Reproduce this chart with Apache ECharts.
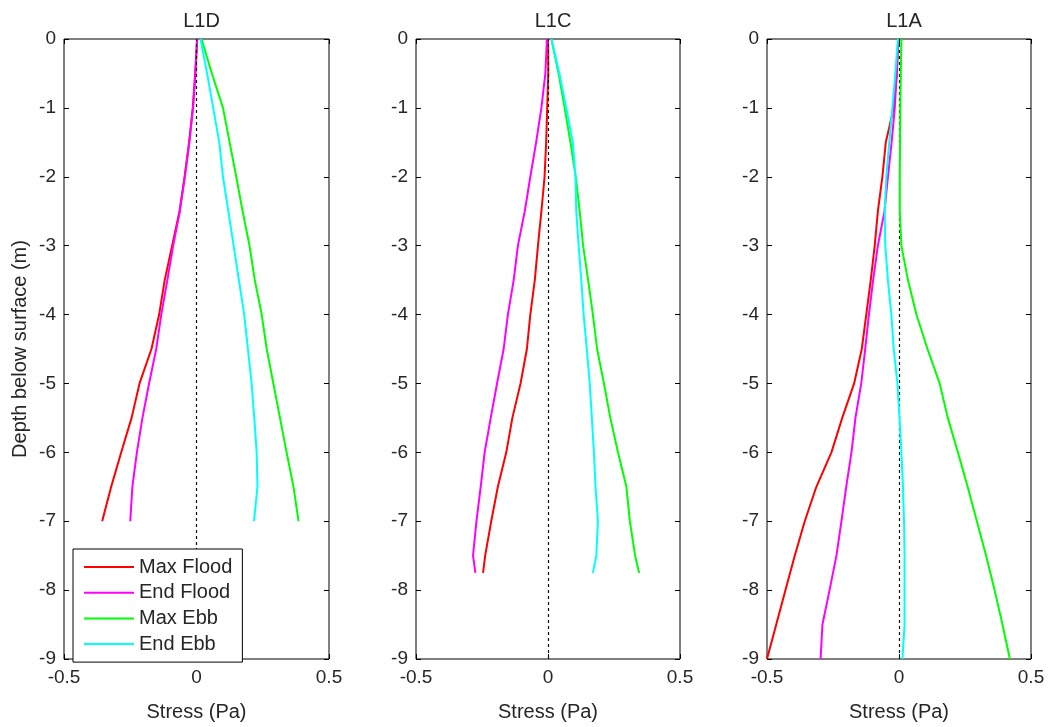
<!DOCTYPE html>
<html>
<head>
<meta charset="utf-8">
<script src="https://cdn.jsdelivr.net/npm/echarts@6/dist/echarts.min.js"></script>
<style>
html,body{margin:0;padding:0;background:#fff;}
#chart{width:1051px;height:727px;}
</style>
</head>
<body>
<div id="chart"></div>
<script>
// ---- Data (stress in Pa, depth in m) ----
const panelTitles = ['L1D', 'L1C', 'L1A'];
const seriesNames = ['Max Flood', 'End Flood', 'Max Ebb', 'End Ebb'];
const seriesColors = ['#ff0000', '#ff00ff', '#00ff00', '#00ffff'];

const depthL1D = [0, -0.5, -1, -1.5, -2, -2.5, -3, -3.5, -4, -4.5, -5, -5.5, -6, -6.5, -7];
const maxFloodL1D = [0.002, -0.005, -0.014, -0.028, -0.045, -0.064, -0.092, -0.120, -0.141, -0.170, -0.215, -0.245, -0.284, -0.322, -0.356];
const endFloodL1D = [0.003, -0.004, -0.013, -0.027, -0.044, -0.063, -0.088, -0.110, -0.133, -0.152, -0.179, -0.204, -0.225, -0.242, -0.250];
const maxEbbL1D = [0.019, 0.058, 0.100, 0.125, 0.150, 0.174, 0.200, 0.220, 0.246, 0.265, 0.290, 0.315, 0.340, 0.366, 0.385];
const endEbbL1D = [0.015, 0.040, 0.063, 0.086, 0.100, 0.120, 0.140, 0.160, 0.180, 0.194, 0.208, 0.218, 0.227, 0.230, 0.217];

const depthL1C = [0, -0.5, -1, -1.5, -2, -2.5, -3, -3.5, -4, -4.5, -5, -5.5, -6, -6.5, -7, -7.5, -7.75];
const maxFloodL1C = [0.000, 0.001, -0.003, -0.007, -0.013, -0.025, -0.038, -0.050, -0.067, -0.080, -0.104, -0.135, -0.158, -0.190, -0.215, -0.238, -0.246];
const endFloodL1C = [-0.004, -0.010, -0.025, -0.045, -0.067, -0.088, -0.114, -0.130, -0.152, -0.168, -0.193, -0.217, -0.240, -0.255, -0.271, -0.284, -0.275];
const maxEbbL1C = [0.013, 0.040, 0.063, 0.085, 0.105, 0.120, 0.133, 0.152, 0.170, 0.186, 0.212, 0.236, 0.265, 0.297, 0.310, 0.330, 0.345];
const endEbbL1C = [0.013, 0.043, 0.069, 0.094, 0.104, 0.107, 0.116, 0.126, 0.135, 0.147, 0.158, 0.166, 0.174, 0.180, 0.189, 0.183, 0.170];

const depthL1A = [0, -0.5, -1, -1.5, -2, -2.5, -3, -3.5, -4, -4.5, -5, -5.5, -6, -6.5, -7, -7.5, -8, -8.5, -9];
const maxFloodL1A = [-0.003, -0.008, -0.020, -0.050, -0.063, -0.080, -0.092, -0.107, -0.124, -0.141, -0.170, -0.215, -0.256, -0.313, -0.357, -0.395, -0.430, -0.465, -0.500];
const endFloodL1A = [-0.003, -0.009, -0.016, -0.028, -0.042, -0.055, -0.080, -0.098, -0.114, -0.128, -0.143, -0.165, -0.180, -0.200, -0.218, -0.237, -0.263, -0.290, -0.297];
const maxEbbL1A = [0.009, 0.007, 0.005, 0.004, 0.003, 0.003, 0.009, 0.034, 0.066, 0.108, 0.154, 0.185, 0.223, 0.260, 0.295, 0.330, 0.362, 0.392, 0.420];
const endEbbL1A = [-0.004, -0.014, -0.025, -0.037, -0.048, -0.054, -0.052, -0.042, -0.029, -0.020, -0.006, 0.002, 0.009, 0.015, 0.019, 0.021, 0.021, 0.021, 0.013];

const xTickValues = [-0.5, 0, 0.5];
const yMin = -9, yMax = 0;

const panels = [
  { depth: depthL1D, values: [maxFloodL1D, endFloodL1D, maxEbbL1D, endEbbL1D] },
  { depth: depthL1C, values: [maxFloodL1C, endFloodL1C, maxEbbL1C, endEbbL1C] },
  { depth: depthL1A, values: [maxFloodL1A, endFloodL1A, maxEbbL1A, endEbbL1A] }
];

// ---- Layout ----
const FONT = "'Liberation Sans', Arial, sans-serif";
const TXT = '#262626';
const FS = 19;    // tick labels
const FS2 = 20;   // titles, axis names, legend
const gridLefts = [64, 416, 767];
const gridWidths = [265, 264, 264];
const gridTop = 39, gridHeight = 630;

const grids = [], xAxes = [], yAxes = [], titles = [], series = [];
const tickStyle = { show: true, inside: true, length: 5, lineStyle: { color: '#000', width: 1 } };

panels.forEach((p, i) => {
  grids.push({
    left: gridLefts[i], top: gridTop, width: gridWidths[i], height: gridHeight,
    show: true, borderColor: '#000', borderWidth: 1, backgroundColor: '#fff', containLabel: false
  });
  titles.push({
    text: panelTitles[i],
    left: gridLefts[i] + gridWidths[i] / 2, top: 6, textAlign: 'center',
    textStyle: { fontFamily: FONT, fontSize: FS2, fontWeight: 'normal', color: TXT }
  });
  // bottom x axis
  xAxes.push({
    type: 'value', gridIndex: i, position: 'bottom',
    min: xTickValues[0], max: xTickValues[xTickValues.length - 1], interval: 0.5,
    name: 'Stress (Pa)', nameLocation: 'middle', nameGap: 43,
    nameTextStyle: { fontFamily: FONT, fontSize: FS2, color: TXT },
    axisLine: { show: false, onZero: false },
    axisTick: tickStyle,
    axisLabel: { fontFamily: FONT, fontSize: FS, color: TXT, margin: 9, showMinLabel: true, showMaxLabel: true },
    splitLine: { show: false }
  });
  // top x axis (ticks only)
  xAxes.push({
    type: 'value', gridIndex: i, position: 'top',
    min: xTickValues[0], max: xTickValues[xTickValues.length - 1], interval: 0.5,
    axisLine: { show: false, onZero: false },
    axisTick: tickStyle,
    axisLabel: { show: false }, splitLine: { show: false }
  });
  // left y axis
  yAxes.push({
    type: 'value', gridIndex: i, position: 'left',
    min: yMin, max: yMax, interval: 1,
    name: i === 0 ? 'Depth below surface (m)' : '', nameLocation: 'middle', nameGap: 34,
    nameTextStyle: { fontFamily: FONT, fontSize: FS2, color: TXT },
    axisLine: { show: false, onZero: false },
    axisTick: tickStyle,
    axisLabel: { fontFamily: FONT, fontSize: FS, color: TXT, margin: 8, showMinLabel: true, showMaxLabel: true },
    splitLine: { show: false }
  });
  // right y axis (ticks only)
  yAxes.push({
    type: 'value', gridIndex: i, position: 'right',
    min: yMin, max: yMax, interval: 1,
    axisLine: { show: false, onZero: false },
    axisTick: tickStyle,
    axisLabel: { show: false }, splitLine: { show: false }
  });

  p.values.forEach((vals, k) => {
    const s = {
      type: 'line', name: seriesNames[k],
      xAxisIndex: i * 2, yAxisIndex: i * 2,
      data: vals.map((v, j) => [v, p.depth[j]]),
      showSymbol: false, symbol: 'none', smooth: false,
      color: seriesColors[k],
      lineStyle: { color: seriesColors[k], width: 2 },
      itemStyle: { color: seriesColors[k] },
      z: 3 + k,
      animation: false
    };
    if (k === 0) {
      s.markLine = {
        silent: true, symbol: 'none', animation: false,
        label: { show: false },
        lineStyle: { color: '#111', type: [3, 3], width: 1.2 },
        data: [{ xAxis: 0 }]
      };
    }
    series.push(s);
  });
});

const chart = echarts.init(document.getElementById('chart'), null, { renderer: 'canvas' });
chart.setOption({
  animation: false,
  backgroundColor: '#fff',
  title: titles,
  grid: grids,
  xAxis: xAxes,
  yAxis: yAxes,
  legend: {
    data: seriesNames,
    orient: 'vertical',
    left: 73, top: 549,
    z: 50, zlevel: 1,
    icon: 'rect', itemWidth: 50, itemHeight: 2, itemGap: 5.7,
    padding: [8, 10, 8, 11],
    backgroundColor: '#fff', borderColor: '#000', borderWidth: 1,
    textStyle: { fontFamily: FONT, fontSize: FS2, color: TXT, lineHeight: 20 },
    selectedMode: false
  },
  series: series
});
</script>
</body>
</html>
